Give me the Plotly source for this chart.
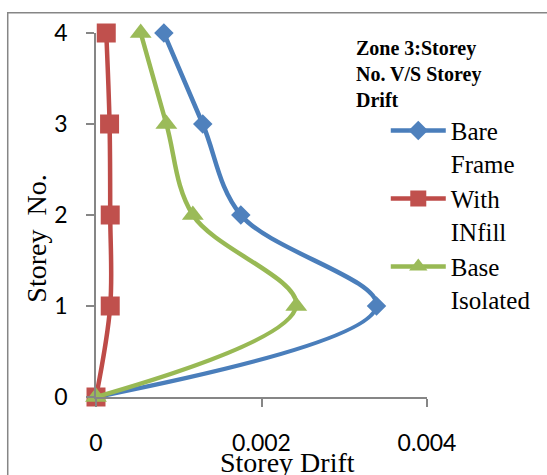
import plotly.graph_objects as go

# Storey levels and inter-storey drift for the three building models (Zone 3)
storey = [0, 1, 2, 3, 4]
bare_frame = [0.0, 0.00339, 0.00175, 0.00129, 0.00082]
with_infill = [0.0, 0.000172, 0.000172, 0.000164, 0.000124]
base_isolated = [0.0, 0.00242, 0.00117, 0.00085, 0.00054]

series_names = ["Bare<br>Frame", "With<br>INfill", "Base<br>Isolated"]
x_ticks = [0, 0.002, 0.004]
y_ticks = [0, 1, 2, 3, 4]

line_colors = ["#4A7EBB", "#BE4B48", "#98B954"]
marker_colors = ["#4F81BD", "#C0504D", "#9BBB59"]
symbols = ["diamond", "square", "triangle-up"]
marker_sizes = [15, 19, 19]

fig = go.Figure()
for name, xs, lc, mc, sym, ms in zip(series_names,
                                     [bare_frame, with_infill, base_isolated],
                                     line_colors, marker_colors, symbols, marker_sizes):
    fig.add_trace(go.Scatter(
        x=xs, y=storey, name=name, mode="lines+markers",
        line=dict(color=lc, width=4.5, shape="spline", smoothing=1),
        marker=dict(symbol=sym, size=ms, color=mc, line=dict(width=0)),
        cliponaxis=False,
    ))

axis_gray = "#868686"
tick_font = dict(family="Lato", size=23, color="black")
serif = "Liberation Serif, Times New Roman, serif"

fig.update_xaxes(
    range=[0, 0.004], tickvals=x_ticks, ticktext=["0", "0.002", "0.004"],
    showline=True, linecolor=axis_gray, linewidth=1.5,
    ticks="outside", ticklen=8, tickwidth=1.5, tickcolor=axis_gray,
    showgrid=False, zeroline=False, tickfont=tick_font,
    ticklabelstandoff=17,
)
fig.update_yaxes(
    range=[0, 4], tickvals=y_ticks,
    showline=True, linecolor=axis_gray, linewidth=1.5,
    ticks="outside", ticklen=8, tickwidth=1.5, tickcolor=axis_gray,
    showgrid=False, zeroline=False, tickfont=tick_font,
    ticklabelstandoff=14,
)

L, R, T, B = 95.7, 118.7, 33.3, 78.3
W, H = 547, 475
pw, ph = W - L - R, H - T - B

def px_x(px):
    return (px - L) / pw

def px_y(py):
    return (H - B - py) / ph

fig.update_layout(
    width=W, height=H,
    margin=dict(l=L, r=R, t=T, b=B, pad=0),
    paper_bgcolor="white", plot_bgcolor="white",
    showlegend=True,
    legend=dict(
        x=px_x(386), y=px_y(108), xanchor="left", yanchor="top",
        bgcolor="rgba(0,0,0,0)",
        font=dict(family=serif, size=25, color="black"),
        valign="top", itemwidth=55, tracegroupgap=6,
    ),
    annotations=[
        dict(text="<b>Zone 3:Storey<br>No. V/S Storey<br>Drift</b>",
             xref="paper", yref="paper", x=px_x(355), y=px_y(35),
             xanchor="left", yanchor="top", align="left", showarrow=False,
             font=dict(family=serif, size=20, color="black")),
        dict(text="Storey Drift", xref="paper", yref="paper",
             x=px_x(288.5), y=px_y(462), xanchor="center", yanchor="middle",
             showarrow=False, font=dict(family=serif, size=28, color="black")),
        dict(text="Storey  No.", xref="paper", yref="paper", textangle=-90,
             x=px_x(35), y=px_y(239), xanchor="center", yanchor="middle",
             showarrow=False, font=dict(family=serif, size=28, color="black")),
    ],
    shapes=[
        dict(type="rect", xref="paper", yref="paper",
             x0=px_x(7), x1=px_x(560), y0=px_y(490), y1=px_y(13),
             line=dict(color=axis_gray, width=1.5), fillcolor="rgba(0,0,0,0)",
             layer="below"),
    ],
)

fig.write_html("out.html")
